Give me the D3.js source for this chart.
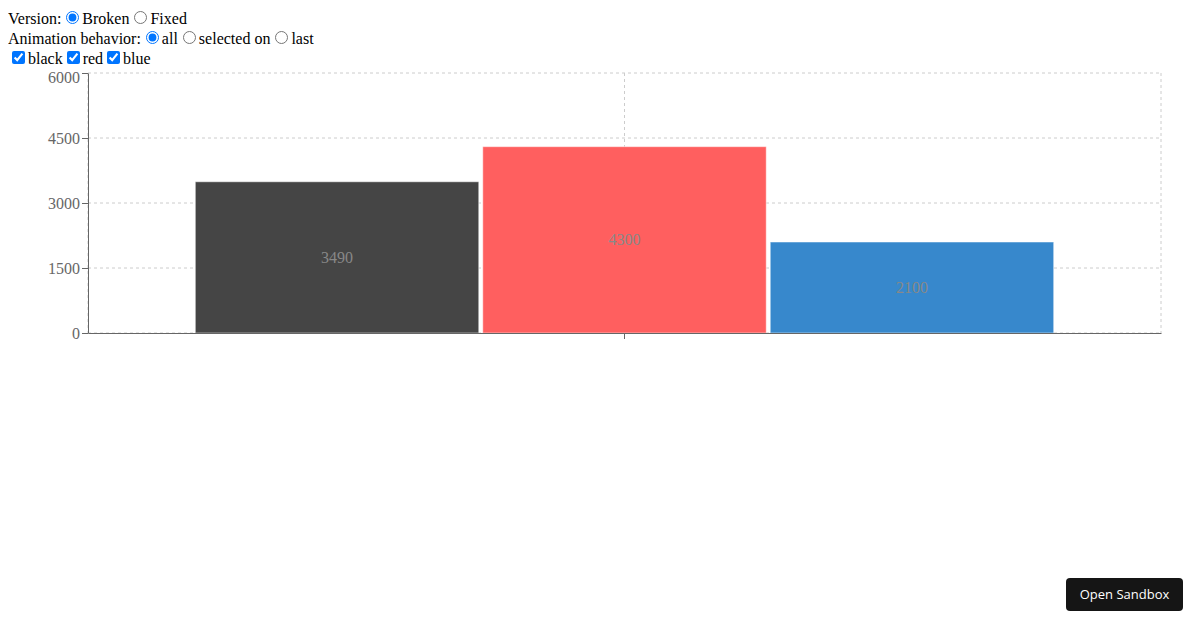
<!DOCTYPE html>
<html><head>
<meta charset="utf-8">
<script src="https://cdn.jsdelivr.net/npm/d3@7/dist/d3.min.js"></script>
<style>
  body { margin: 8px; font-family: "Liberation Serif", "Times New Roman", serif; font-size: 16px; }
  .row { height: 20px; line-height: 20px; }
  #chart { display: block; }
  .sandbox { position: fixed; left: 1066px; top: 578px; width: 117px; height: 33px;
    background: #151515; color: #fff; border-radius: 4px; font-family: "Open Sans", sans-serif;
    font-size: 13px; line-height: 33px; text-align: center; }
</style>
</head>
<body>
<div class="row">Version:<input type="radio" name="v" checked>Broken<input type="radio" name="v">Fixed</div>
<div class="row">Animation behavior:<input type="radio" name="a" checked>all<input type="radio" name="a">selected on<input type="radio" name="a">last</div>
<div class="row"><input type="checkbox" checked>black<input type="checkbox" checked>red<input type="checkbox" checked>blue</div>
<svg id="chart" width="1184" height="300"></svg>
<div class="sandbox">Open Sandbox</div>
<script>
// chart values
var categories = [""];
var series = ["black", "red", "blue"];
var values = [3490, 4300, 2100];
var colors = ["#454545", "#ff5f5f", "#3788cc"];
var yTicks = [0, 1500, 3000, 4500, 6000];

const svg = d3.select("#chart"),
      mLeft = 80, mTop = 5, plotW = 1073, plotH = 260;

var g = svg.append("g").attr("transform", "translate(" + mLeft + "," + mTop + ")");

var x = d3.scaleBand().domain(categories).range([0, plotW]).padding(0);
var y = d3.scaleLinear().domain([0, 6000]).range([plotH, 0]);

// grid (dashed, not pixel snapped so it looks soft like the original)
g.append("g").selectAll("line").data(yTicks).enter().append("line")
  .attr("x1", 0).attr("x2", plotW)
  .attr("y1", function(d) { return y(d); })
  .attr("y2", function(d) { return y(d); })
  .attr("stroke", "#ccc").attr("stroke-dasharray", "3 3");
var vx = [0, x(categories[0]) + x.bandwidth() / 2, plotW];
g.append("g").selectAll("line").data(vx).enter().append("line")
  .attr("y1", 0).attr("y2", plotH)
  .attr("x1", function(d) { return d; })
  .attr("x2", function(d) { return d; })
  .attr("stroke", "#ccc").attr("stroke-dasharray", "3 3");

// bars
var bw = x.bandwidth(), off = bw * 0.1, L = bw - 2 * off;
var xs = d3.scaleBand().domain(series)
  .range([x(categories[0]) + off, x(categories[0]) + bw - off])
  .paddingInner(12 / (L + 4)).paddingOuter(0);

var rows = series.map(function(s, i) { return { name: s, value: values[i], color: colors[i] }; });

g.append("g").selectAll("rect").data(rows).enter().append("rect")
  .attr("x", function(d) { return xs(d.name); })
  .attr("y", function(d) { return y(d.value); })
  .attr("width", xs.bandwidth())
  .attr("height", function(d) { return plotH - y(d.value); })
  .attr("fill", function(d) { return d.color; })
  .attr("stroke", "#fff").attr("stroke-opacity", 0.5);

g.append("g").selectAll("text").data(rows).enter().append("text")
  .attr("x", function(d) { return xs(d.name) + xs.bandwidth() / 2; })
  .attr("y", function(d) { return (y(d.value) + plotH) / 2; })
  .attr("text-anchor", "middle").attr("dominant-baseline", "central")
  .attr("fill", "#888").style("font-size", "16px")
  .text(function(d) { return d.value; });

// axes
var yAxis = d3.axisLeft(y).tickValues(yTicks).tickFormat(d3.format("d")).tickSize(6).tickSizeOuter(0);
var ya = g.append("g").call(yAxis);
var xAxis = d3.axisBottom(x).tickSize(6).tickSizeOuter(0);
var xa = g.append("g").attr("transform", "translate(0," + plotH + ")").call(xAxis);

[ya, xa].forEach(function(a) {
  a.selectAll("path, line").attr("stroke", "#666");
  a.selectAll("text").attr("fill", "#666").style("font-size", "16px")
    .style("font-family", "Liberation Serif, serif");
});
ya.selectAll("text").attr("x", -8);
// top label is pushed down so it stays inside the svg
ya.selectAll(".tick").filter(function(d) { return d === 6000; })
  .select("text").attr("dy", "0.6em");
</script>
</body>
</html>
